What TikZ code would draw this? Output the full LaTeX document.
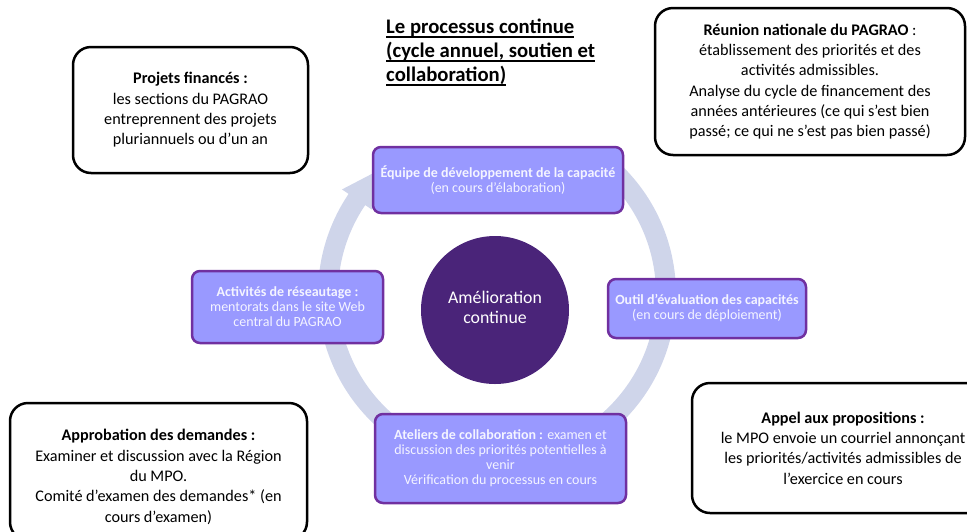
\documentclass[tikz,border=0pt]{standalone}
\usepackage{fontspec}
\setmainfont{Carlito}
\definecolor{ringc}{HTML}{CFD5EA}
\definecolor{pfill}{HTML}{9999FF}
\definecolor{pborder}{HTML}{7030A0}
\definecolor{ptext}{HTML}{F4F4FF}
\definecolor{cfill}{HTML}{4A2479}
\newcommand\myul[1]{\setbox0\hbox{#1}\rlap{\vrule height -2.4pt depth 4.2pt width \wd0}\box0}
\begin{document}
\begin{tikzpicture}[x=1pt,y=-1pt,
  pbox/.style={draw=pborder, fill=pfill, line width=2.5pt, rounded corners=8pt, text=ptext, align=center, inner sep=0pt, font=\fontsize{14}{15}\selectfont},
  bbox/.style={draw=black, fill=white, line width=2.5pt, rounded corners=18pt, align=center, inner sep=0pt, font=\fontsize{16.2}{20.3}\selectfont},
  btext/.style={align=center, inner sep=0pt, font=\fontsize{16.2}{20.3}\selectfont}]
\useasboundingbox (0,0) rectangle (967,531);
% ring arrow
\begin{scope}[shift={(497,294)}]
  \draw[ringc, line width=20pt] (-50:169) arc[start angle=-50, end angle=215, radius=169];
  \fill[ringc] (214:151) -- (214:187) -- (229:169) -- cycle;
\end{scope}
% centre
\node[circle, fill=cfill, minimum size=148pt, inner sep=0pt] (amel) at (495,310) {};
\node[text=white, align=center, inner sep=0pt, font=\fontsize{17.8}{20}\selectfont] (ameltxt) at (495,307) {Amélioration\\continue};
% purple boxes
\node[pbox, minimum width=250, minimum height=66] (equipe) at (498,180) {\textbf{Équipe de développement de la capacité}\\(en cours d’élaboration)};
\node[pbox, minimum width=191, minimum height=72] (reseau) at (287.5,307) {\textbf{Activités de réseautage :}\\mentorats dans le site Web\\central du PAGRAO};
\node[pbox, minimum width=198, minimum height=59] (outil) at (707,308.5) {\textbf{Outil d’évaluation des capacités}\\(en cours de déploiement)};
\node[pbox, minimum width=251, minimum height=89] (ateliers) at (500.5,458.5) {\textbf{Ateliers de collaboration :} examen et\\discussion des priorités potentielles à\\venir\\Vérification du processus en cours};
% black boxes
\node[bbox, minimum width=235, minimum height=126] (projets) at (190.5,110) {\textbf{Projets financés :}\\les sections du PAGRAO\\entreprennent des projets\\pluriannuels ou d’un an};
\node[bbox, minimum width=310, minimum height=147] (reunion) at (810,81.5) {\textbf{Réunion nationale du PAGRAO} :\\établissement des priorités et des\\activités admissibles.\\Analyse du cycle de financement des\\années antérieures (ce qui s’est bien\\passé; ce qui ne s’est pas bien passé)};
\node[bbox, minimum width=297, minimum height=137] (approb) at (158.5,471.5) {};
\node[btext] (approbtxt) at (158.5,477) {\textbf{Approbation des demandes :}\\Examiner et discussion avec la Région\\du MPO.\\Comité d’examen des demandes* (en\\cours d’examen)};
\node[bbox, minimum width=302, minimum height=130] (appel) at (843,448) {\textbf{Appel aux propositions :}\\le MPO envoie un courriel annonçant\\les priorités/activités admissibles de\\l’exercice en cours};
% title
\node[anchor=north west, align=left, inner sep=0pt, font=\bfseries\fontsize{20.7}{24}\selectfont] (title) at (386,19) {\myul{Le processus continue}\\\myul{(cycle annuel, soutien et}\\\myul{collaboration)}};
\end{tikzpicture}
\end{document}
